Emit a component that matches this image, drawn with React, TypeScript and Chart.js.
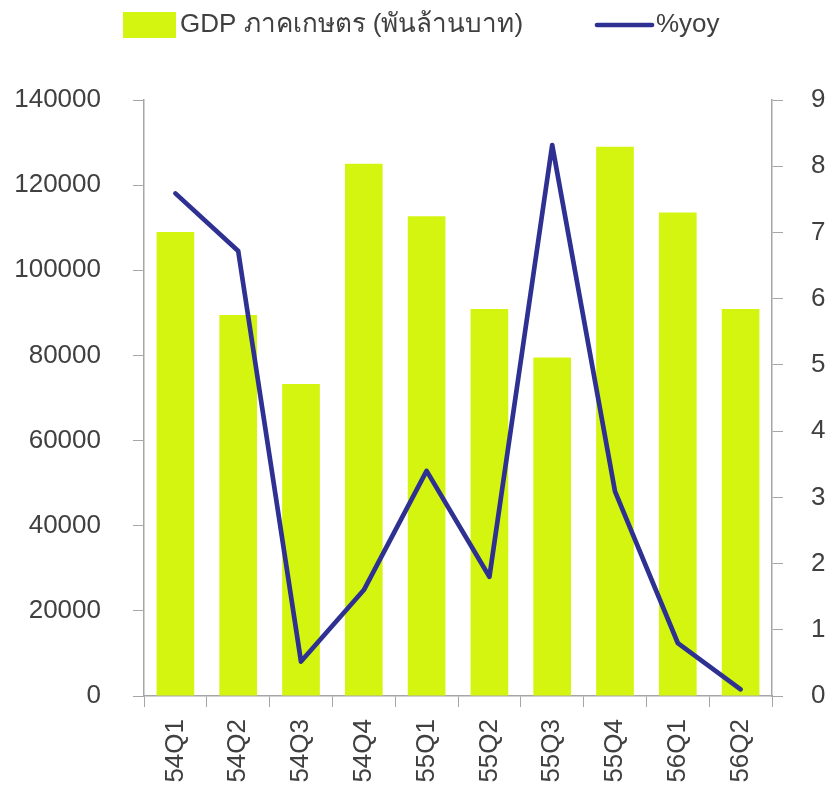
import React, { useEffect, useRef } from "react";
import { Chart, registerables } from "chart.js";

Chart.register(...registerables);

const categories = ["54Q1", "54Q2", "54Q3", "54Q4", "55Q1", "55Q2", "55Q3", "55Q4", "56Q1", "56Q2"];
const gdpValues = [109000, 89500, 73300, 125000, 112700, 90900, 79500, 129000, 113600, 90900];
const yoyValues = [7.59, 6.72, 0.52, 1.6, 3.4, 1.8, 8.32, 3.09, 0.8, 0.1];
const gdpLabel = "GDP ภาคเกษตร (พันล้านบาท)";
const yoyLabel = "%yoy";
const leftAxisMin = 0;
const leftAxisMax = 140000;
const leftAxisStep = 20000;
const rightAxisMin = 0;
const rightAxisMax = 9;
const rightAxisStep = 1;

const BAR_COLOR = "#d4f510";
const LINE_COLOR = "#2e3192";
const AXIS_COLOR = "#a6a6a6";
const TEXT_COLOR = "#404040";
const FONT_FAMILY = "'Liberation Sans', Arial, sans-serif";
const FONT_SIZE = 26;

const legendPlugin = {
  id: "customLegend",
  afterDraw(chart: any) {
    const ctx = chart.ctx as CanvasRenderingContext2D;
    ctx.save();
    ctx.font = `${FONT_SIZE}px ${FONT_FAMILY}`;
    ctx.textBaseline = "middle";
    ctx.textAlign = "left";
    const cy = 25;
    const boxX = 123;
    const boxW = 53;
    const boxH = 26;
    const gap = 4;
    ctx.fillStyle = BAR_COLOR;
    ctx.fillRect(boxX, cy - boxH / 2, boxW, boxH);
    const t1x = boxX + boxW + gap;
    ctx.fillStyle = TEXT_COLOR;
    ctx.fillText(gdpLabel, t1x, cy);
    const w1 = ctx.measureText(gdpLabel).width;
    const lineX = Math.max(t1x + w1 + 30, 597);
    const lineW = 55;
    ctx.strokeStyle = LINE_COLOR;
    ctx.lineWidth = 4.7;
    ctx.lineCap = "round";
    ctx.beginPath();
    ctx.moveTo(lineX, cy);
    ctx.lineTo(lineX + lineW, cy);
    ctx.stroke();
    ctx.fillStyle = TEXT_COLOR;
    ctx.fillText(yoyLabel, lineX + lineW + gap, cy);
    ctx.restore();
  },
};

export default function App() {
  const ref = useRef<HTMLCanvasElement | null>(null);

  useEffect(() => {
    if (!ref.current) return;
    const font = { family: FONT_FAMILY, size: FONT_SIZE };
    const chart = new Chart(ref.current, {
      type: "bar",
      data: {
        labels: categories,
        datasets: [
          {
            type: "line",
            label: yoyLabel,
            data: yoyValues,
            borderColor: LINE_COLOR,
            backgroundColor: LINE_COLOR,
            borderWidth: 4.7,
            pointRadius: 0,
            tension: 0,
            borderCapStyle: "round",
            borderJoinStyle: "round",
            yAxisID: "y1",
            order: 0,
          } as any,
          {
            type: "bar",
            label: gdpLabel,
            data: gdpValues,
            backgroundColor: BAR_COLOR,
            barPercentage: 0.6,
            categoryPercentage: 1.0,
            yAxisID: "y",
            order: 1,
          } as any,
        ],
      },
      options: {
        responsive: false,
        animation: false,
        devicePixelRatio: 1,
        layout: { padding: { top: 100, left: 15, right: 4, bottom: 2 } },
        plugins: {
          legend: { display: false },
          tooltip: { enabled: false },
        },
        scales: {
          x: {
            offset: true,
            grid: {
              display: true,
              drawOnChartArea: false,
              tickLength: 11,
              color: AXIS_COLOR,
              offset: true,
            },
            border: { color: AXIS_COLOR, width: 1.5 },
            ticks: {
              minRotation: 90,
              maxRotation: 90,
              padding: 12,
              autoSkip: false,
              font,
              color: TEXT_COLOR,
            },
            afterFit: (scale: any) => {
              scale.paddingLeft = 0;
              scale.paddingRight = 0;
              scale.height = 93;
            },
          },
          y: {
            position: "left",
            min: leftAxisMin,
            max: leftAxisMax,
            grid: { drawOnChartArea: false, tickLength: 11, color: AXIS_COLOR },
            border: { color: AXIS_COLOR, width: 1.5 },
            ticks: {
              stepSize: leftAxisStep,
              padding: 32,
              font,
              color: TEXT_COLOR,
              callback: (v: any) => String(v),
            },
            afterFit: (scale: any) => {
              scale.width = 129;
            },
          },
          y1: {
            position: "right",
            min: rightAxisMin,
            max: rightAxisMax,
            grid: { drawOnChartArea: false, tickLength: 11, color: AXIS_COLOR },
            border: { color: AXIS_COLOR, width: 1.5 },
            ticks: {
              stepSize: rightAxisStep,
              padding: 28,
              font,
              color: TEXT_COLOR,
              callback: (v: any) => String(v),
            },
            afterFit: (scale: any) => {
              scale.width = 53;
            },
          },
        },
      },
      plugins: [legendPlugin],
    });
    return () => chart.destroy();
  }, []);

  return (
    <div style={{ position: "absolute", left: 0, top: 0, width: 829, height: 791, background: "#fff" }}>
      <canvas ref={ref} width={829} height={791} />
    </div>
  );
}
